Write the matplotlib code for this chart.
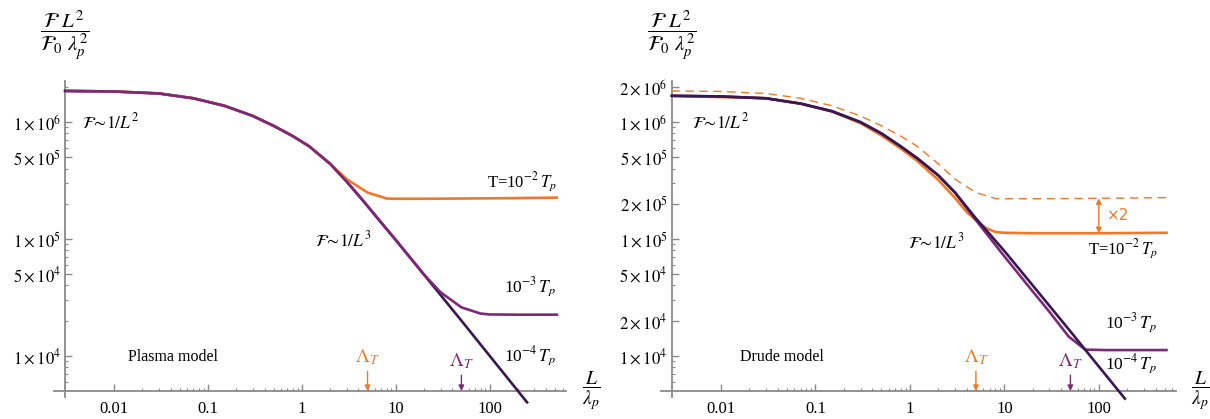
import matplotlib
matplotlib.use("Agg")
import matplotlib.pyplot as plt

plt.rcParams["font.family"] = "serif"
plt.rcParams["font.serif"] = ["Liberation Serif", "DejaVu Serif"]
plt.rcParams["mathtext.fontset"] = "stix"

# plasma model, F L^2 / (F0 lambda_p^2) against L / lambda_p
plasma_L_t4 = [0.003, 0.01, 0.03, 0.07, 0.15, 0.3, 0.5, 0.8, 1.2, 2, 3, 4.5, 7, 10, 20, 50, 100, 200, 250]
plasma_t4 = [1.85e6, 1.83e6, 1.76e6, 1.60e6, 1.38e6, 1.13e6, 9.3e5, 7.6e5, 6.2e5, 4.4e5, 3.1e5, 2.12e5,
             1.38e5, 9.8e4, 4.95e4, 2.0e4, 1.0e4, 5.0e3, 4.0e3]
plasma_L_t3 = [0.003, 0.01, 0.03, 0.07, 0.15, 0.3, 0.5, 0.8, 1.2, 2, 3, 4.5, 7, 10, 20, 30, 50, 80, 100, 200, 520]
plasma_t3 = [1.85e6, 1.83e6, 1.76e6, 1.60e6, 1.38e6, 1.13e6, 9.3e5, 7.6e5, 6.2e5, 4.4e5, 3.1e5, 2.12e5,
             1.38e5, 9.8e4, 4.95e4, 3.5e4, 2.6e4, 2.3e4, 2.26e4, 2.25e4, 2.25e4]
plasma_L_t2 = [0.003, 0.01, 0.03, 0.07, 0.15, 0.3, 0.5, 0.8, 1.2, 2, 3, 5, 8, 10, 20, 50, 100, 200, 520]
plasma_t2 = [1.85e6, 1.83e6, 1.76e6, 1.60e6, 1.38e6, 1.13e6, 9.3e5, 7.6e5, 6.2e5, 4.4e5, 3.25e5, 2.5e5,
             2.22e5, 2.21e5, 2.21e5, 2.22e5, 2.23e5, 2.24e5, 2.26e5]

# Drude model
drude_L_t4 = [0.003, 0.01, 0.03, 0.07, 0.15, 0.3, 0.5, 0.8, 1.2, 2, 3, 5, 7, 10, 20, 50, 100, 189]
drude_t4 = [1.68e6, 1.66e6, 1.60e6, 1.44e6, 1.24e6, 1.0e6, 8.0e5, 6.2e5, 4.9e5, 3.5e5, 2.5e5, 1.5e5,
            1.1e5, 7.9e4, 4.0e4, 1.62e4, 8.1e3, 4.3e3]
drude_L_t3 = [0.003, 0.01, 0.03, 0.07, 0.15, 0.3, 0.5, 0.8, 1.2, 2, 3, 5, 10, 20, 30, 48, 72, 120, 520]
drude_t3 = [1.68e6, 1.66e6, 1.60e6, 1.44e6, 1.24e6, 1.0e6, 8.0e5, 6.2e5, 4.9e5, 3.5e5, 2.5e5, 1.45e5,
            7.1e4, 3.55e4, 2.38e4, 1.46e4, 1.13e4, 1.12e4, 1.12e4]
drude_L_t2 = [0.003, 0.03, 0.07, 0.15, 0.3, 0.5, 0.8, 1.2, 2, 3, 4, 5.5, 6.4, 8, 10, 20, 100, 520]
drude_t2 = [1.68e6, 1.60e6, 1.44e6, 1.23e6, 9.8e5, 7.7e5, 5.95e5, 4.65e5, 3.2e5, 2.25e5, 1.7e5, 1.36e5,
            1.24e5, 1.15e5, 1.13e5, 1.12e5, 1.12e5, 1.13e5]

lambda_T = [5, 50]  # thermal wavelength for T = 1e-2 and 1e-3 Tp

c_orange = "#f07828"
c_purple = "#7d2878"
c_dark = "#38194f"
c_axis = "#8a8a8a"

x_lo, x_hi = 0.003, 650
y_lo, y_hi = 5000, 2.25e6

x_major = [0.01, 0.1, 1, 10, 100]
x_minor = [m * 10.0 ** k for k in range(-2, 3) for m in range(2, 10) if m * 10.0 ** k <= 600]
y_minor = [m * 10.0 ** k for k in range(3, 7) for m in range(1, 10) if y_lo < m * 10.0 ** k < y_hi]


def sci(v):
    k = len(str(int(v))) - 1
    m = int(round(v / 10 ** k))
    return r"$%d\times10^{%d}$" % (m, k)


def setup(ax, y_major):
    ax.set_xscale("log")
    ax.set_yscale("log")
    ax.set_xlim(x_lo, x_hi)
    ax.set_ylim(y_lo, y_hi)
    for s in ax.spines.values():
        s.set_visible(False)
    ax.plot([-0.022, 1], [0, 0], transform=ax.transAxes, color=c_axis, lw=1.3, clip_on=False, zorder=1)
    ax.plot([0, 0], [-0.02, 1], transform=ax.transAxes, color=c_axis, lw=1.3, clip_on=False, zorder=1)
    ax.set_xticks(x_major)
    ax.set_xticklabels(["0.01", "0.1", "1", "10", "100"])
    ax.set_xticks(x_minor, minor=True)
    ax.set_yticks(y_major)
    ax.set_yticklabels([sci(v) for v in y_major])
    ax.set_yticks([v for v in y_minor if v not in y_major], minor=True)
    ax.tick_params(which="both", direction="in", color=c_axis, labelsize=12)
    ax.tick_params(axis="x", which="major", length=5, width=1, pad=7)
    ax.tick_params(axis="x", which="minor", length=2.5, width=0.8, labelbottom=False)
    ax.tick_params(axis="y", which="major", length=5, width=1, pad=3)
    ax.tick_params(axis="y", which="minor", length=2.5, width=0.8, labelleft=False)
    # axis captions
    ax.text(0, 1.148, r"$\dfrac{\mathcal{F}\ L^2}{\mathcal{F}_0\ \lambda_p^2}$", transform=ax.transAxes,
            ha="center", va="center", fontsize=15)
    ax.text(1.05, 0, r"$\dfrac{L}{\lambda_p}$", transform=ax.transAxes,
            ha="center", va="center", fontsize=14)


def thermal_marks(ax):
    ax.annotate(r"$\Lambda_T$", xy=(lambda_T[0], y_lo), xytext=(lambda_T[0], 9.7e3), ha="center", va="center",
                color=c_orange, fontsize=14,
                arrowprops=dict(arrowstyle="-|>", color=c_orange, lw=1, mutation_scale=8, shrinkA=1, shrinkB=0))
    ax.annotate(r"$\Lambda_T$", xy=(lambda_T[1], y_lo), xytext=(lambda_T[1], 9.0e3), ha="center", va="center",
                color=c_purple, fontsize=14,
                arrowprops=dict(arrowstyle="-|>", color=c_purple, lw=1, mutation_scale=8, shrinkA=1, shrinkB=0))


fig = plt.figure(figsize=(12.1, 4.19), dpi=100)
axL = fig.add_axes([65 / 1210, 28 / 419, 501 / 1210, 310 / 419])
axR = fig.add_axes([671.6 / 1210, 28 / 419, 504 / 1210, 310 / 419])

# plasma model
setup(axL, [1e4, 5e4, 1e5, 5e5, 1e6])
axL.plot(plasma_L_t4, plasma_t4, color=c_dark, lw=1.9, clip_on=False, zorder=3)
axL.plot(plasma_L_t2, plasma_t2, color=c_orange, lw=1.9, zorder=4)
axL.plot(plasma_L_t3, plasma_t3, color=c_purple, lw=1.9, zorder=5)
thermal_marks(axL)
axL.text(0.0046, 1e6, r"$\mathcal{F}\!\sim\!1/L^2$", fontsize=12.5, va="center")
axL.text(1.37, 9.8e4, r"$\mathcal{F}\!\sim\!1/L^3$", fontsize=12.5, va="center")
axL.text(516, 3.07e5, r"T=10$^{-2}\,T_p$", fontsize=12, ha="right", va="center")
axL.text(516, 3.9e4, r"10$^{-3}\,T_p$", fontsize=12.5, ha="right", va="center")
axL.text(516, 1.0e4, r"10$^{-4}\,T_p$", fontsize=12.5, ha="right", va="center")
axL.text(0.014, 9.8e3, "Plasma model", fontsize=11.5, va="center")

# Drude model, with the plasma T = 1e-2 Tp curve dashed for comparison
setup(axR, [1e4, 2e4, 5e4, 1e5, 2e5, 5e5, 1e6, 2e6])
axR.plot(plasma_L_t2, plasma_t2, color=c_orange, lw=1.0, dashes=(6, 4), zorder=3)
axR.plot(drude_L_t2, drude_t2, color=c_orange, lw=1.9, zorder=4)
axR.plot(drude_L_t3, drude_t3, color=c_purple, lw=1.9, zorder=5)
axR.plot(drude_L_t4, drude_t4, color=c_dark, lw=1.9, clip_on=False, zorder=6)
thermal_marks(axR)
axR.annotate("", xy=(100, plasma_t2[-3]), xytext=(100, drude_t2[-2]),
             arrowprops=dict(arrowstyle="<|-|>", color=c_orange, lw=1, mutation_scale=8, shrinkA=0, shrinkB=0))
axR.text(121, 1.6e5, "×2", color=c_orange, fontsize=11, family="DejaVu Sans", va="center")
axR.text(0.0049, 1e6, r"$\mathcal{F}\!\sim\!1/L^2$", fontsize=12.5, va="center")
axR.text(0.95, 9.3e4, r"$\mathcal{F}\!\sim\!1/L^3$", fontsize=12.5, va="center")
axR.text(421, 8.1e4, r"T=10$^{-2}\,T_p$", fontsize=12, ha="right", va="center")
axR.text(421, 1.9e4, r"10$^{-3}\,T_p$", fontsize=12.5, ha="right", va="center")
axR.text(421, 8.5e3, r"10$^{-4}\,T_p$", fontsize=12.5, ha="right", va="center")
axR.text(0.0159, 9.8e3, "Drude model", fontsize=11.5, va="center")

fig.savefig("out.png", dpi=100)
